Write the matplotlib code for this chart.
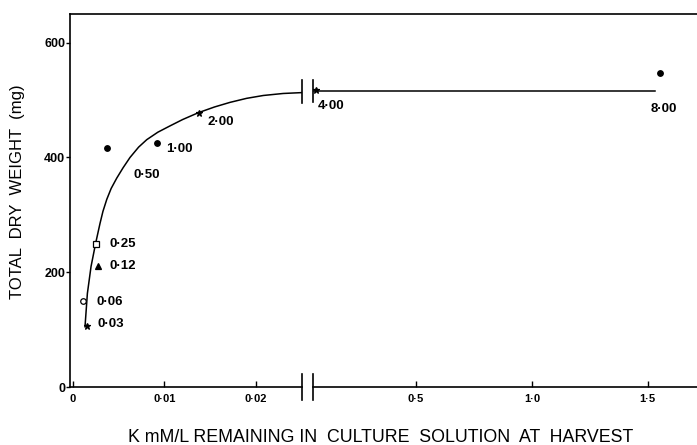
import matplotlib
matplotlib.use('Agg')
import matplotlib.pyplot as plt
from matplotlib.lines import Line2D

plt.rcParams['font.family'] = ['Liberation Sans', 'DejaVu Sans']

# K supplied (mM/L) -> remaining K and total dry weight
conc_labels = ['0·03', '0·06', '0·12', '0·25', '0·50', '1·00', '2·00', '4·00', '8·00']
k_remaining = [0.00153, 0.00116, 0.0028, 0.00258, 0.00378, 0.00918, 0.01384, 0.069, 1.553]
dry_weight = [106, 150, 210, 250, 417, 425, 478, 517, 547]
markers = ['*', 'o', '^', 's', 'o', 'o', '*', '*', 'o']
filled = [True, False, True, False, True, True, True, True, True]

# fitted curve (left part) and plateau (right part)
curve_x = [0.00134, 0.0016, 0.0020, 0.00251, 0.00298, 0.0033, 0.00372, 0.0042,
           0.00481, 0.0055, 0.00626, 0.0072, 0.00809, 0.0093, 0.01063, 0.0120,
           0.01373, 0.0155, 0.01719, 0.0190, 0.02083, 0.0230, 0.02503]
curve_y = [105, 163, 210, 251, 285, 306, 327, 346, 364, 382, 400, 418, 431,
           444, 455, 466, 478, 488, 496, 503, 508, 511.5, 513]
plateau_x = [0.06, 1.53]
plateau_y = [515, 515]

# label offsets in points (dx, dy)
label_offsets = [(8, 1.5), (9.5, -1), (8, 0), (9.5, 0), (19, -19.5),
                 (7, -4), (6, -7), (1, -11.5), (-7, -26)]

x_break = 0.025

fig = plt.figure(figsize=(6.97, 4.45), dpi=100)
ax1 = fig.add_axes([70/697, 58/445, 232/697, 373/445])
ax2 = fig.add_axes([313/697, 58/445, 384/697, 373/445])

for ax in (ax1, ax2):
    ax.set_ylim(0, 650)
    ax.spines['top'].set_visible(False)
    ax.spines['right'].set_visible(False)
    for s in ax.spines.values():
        s.set_linewidth(1.2)
    ax.tick_params(axis='x', direction='in', length=4, width=1, pad=5)

ax1.set_xlim(-0.0003, 0.02506)
ax2.set_xlim(0.0555, 1.713)
ax2.spines['left'].set_visible(False)
ax2.set_yticks([])

ax1.set_yticks([0, 200, 400, 600])
ax1.set_yticklabels(['0', '200', '400', '600'], fontweight='bold', fontsize=9)
ax1.tick_params(axis='y', direction='out', length=3, width=1, pad=0.5)
ax1.set_xticks([0, 0.01, 0.02])
ax1.set_xticklabels(['0', '0·01', '0·02'], fontweight='bold', fontsize=8)
ax2.set_xticks([0.5, 1.0, 1.5])
ax2.set_xticklabels(['0·5', '1·0', '1·5'], fontweight='bold', fontsize=8)

ax1.plot(curve_x, curve_y, color='black', lw=1.1)
ax2.plot(plateau_x, plateau_y, color='black', lw=1.1)

for lab, x, y, m, f, off in zip(conc_labels, k_remaining, dry_weight,
                                markers, filled, label_offsets):
    ax = ax1 if x < x_break else ax2
    size = 5 if m == '*' else 4
    ax.plot(x, y, marker=m, ms=size, color='black',
            mfc='black' if f else 'white', mew=0.9, clip_on=False, zorder=3)
    ax.annotate(lab, (x, y), xytext=off, textcoords='offset points',
                ha='left', va='center', fontsize=9.5, fontweight='bold')

# break marks on the x-axis
ax1.plot([1, 1], [-0.036, 0.036], transform=ax1.transAxes, color='black',
         lw=1.2, clip_on=False)
ax2.plot([0, 0], [-0.036, 0.036], transform=ax2.transAxes, color='black',
         lw=1.2, clip_on=False)
# break marks on the curve
ax1.plot([1, 1], [495, 535], transform=ax1.get_yaxis_transform(),
         color='black', lw=1.2, clip_on=False)
ax2.plot([0, 0], [497, 535], transform=ax2.get_yaxis_transform(),
         color='black', lw=1.2, clip_on=False)

# top frame line running over both panels
fig.add_artist(Line2D([70/697, 1.0], [431/445, 431/445], color='black', lw=1.2))

fig.text(381/697, 7/445, 'K mM/L REMAINING IN  CULTURE  SOLUTION  AT  HARVEST',
         ha='center', va='center', fontsize=12.8)
fig.text(18/697, 253/445, 'TOTAL  DRY  WEIGHT  (mg)', rotation=90,
         ha='center', va='center', fontsize=12)

fig.savefig('out.png', dpi=100)
